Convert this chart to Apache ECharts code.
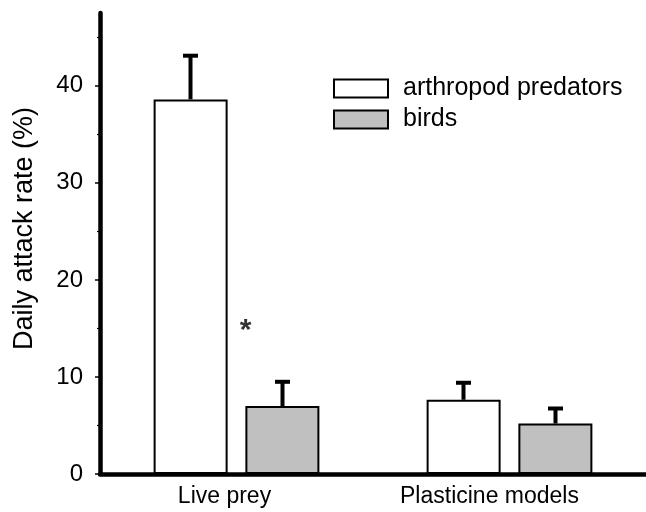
<!DOCTYPE html>
<html>
<head>
<meta charset="utf-8">
<script src="https://cdn.jsdelivr.net/npm/echarts@6/dist/echarts.min.js"></script>
<style>
html,body{margin:0;padding:0;background:#fff;}
#chart{width:646px;height:512px;}
</style>
</head>
<body>
<div id="chart"></div>
<script>
var categories = ['Live prey', 'Plasticine models'];
var seriesNames = ['arthropod predators', 'birds'];
var arthropodValues = [38.6, 7.65];
var birdValues = [7.0, 5.2];
var arthropodUpper = [43.1, 9.4];
var birdUpper = [9.5, 6.75];
var majorTicks = [0, 10, 20, 30, 40];
var minorTicks = [5, 15, 25, 35, 45];
var asteriskPoint = ['Live prey', 15.3];

var FONT = '"Liberation Sans", Arial, sans-serif';
var BAR_OFFSET = 46;

function errorSeries(upper, values, sign) {
  var data = categories.map(function (c, i) { return [i, values[i], upper[i]]; });
  return {
    type: 'custom',
    silent: true,
    z: 5,
    data: data,
    renderItem: function (params, api) {
      var p0 = api.coord([api.value(0), api.value(1)]);
      var p1 = api.coord([api.value(0), api.value(2)]);
      var x = p0[0] + sign * BAR_OFFSET;
      var style = {stroke: '#000', lineWidth: 4};
      return {
        type: 'group',
        children: [
          {type: 'line', shape: {x1: x, y1: p0[1], x2: x, y2: p1[1]}, style: style},
          {type: 'line', shape: {x1: x - 7.5, y1: p1[1], x2: x + 7.5, y2: p1[1]}, style: style}
        ]
      };
    }
  };
}

var chart = echarts.init(document.getElementById('chart'));
chart.setOption({
  backgroundColor: '#fff',
  animation: false,
  grid: {left: 100, right: -9, top: 13, bottom: 38, containLabel: false},
  legend: {
    orient: 'vertical',
    left: 328,
    top: 71,
    icon: 'rect',
    itemWidth: 54,
    itemHeight: 18,
    itemGap: 6,
    data: seriesNames,
    textStyle: {fontFamily: FONT, fontSize: 25, color: '#000', padding: [0, 0, 0, 10]}
  },
  xAxis: {
    type: 'category',
    data: categories,
    axisLine: {lineStyle: {color: '#000', width: 4.5}},
    axisTick: {show: false},
    axisLabel: {
      interval: 0,
      hideOverlap: false,
      fontFamily: FONT, fontSize: 23, color: '#000', margin: 11,
      formatter: function (v, i) { return i === 0 ? '{a|' + v + '}' : '{b|' + v + '}'; },
      rich: {
        a: {fontFamily: FONT, fontSize: 23, color: '#000', padding: [0, 24, 0, 0]},
        b: {fontFamily: FONT, fontSize: 23, color: '#000', padding: [0, 40, 0, 0]}
      }
    }
  },
  yAxis: [{
    type: 'value',
    min: 0, max: 47.5,
    name: 'Daily attack rate (%)',
    nameLocation: 'middle',
    nameRotate: 90,
    nameGap: 62,
    nameTextStyle: {fontFamily: FONT, fontSize: 27, color: '#000', padding: [0, 0, 0, 30]},
    axisLine: {show: true, lineStyle: {color: '#000', width: 4.5}},
    axisTick: {show: true, length: 5, customValues: majorTicks, lineStyle: {color: '#000', width: 1.5}},
    axisLabel: {customValues: majorTicks, fontFamily: FONT, fontSize: 24, color: '#000', margin: 17, padding: [6, 0, 0, 0]},
    splitLine: {show: false}
  }, {
    type: 'value',
    min: 0, max: 47.5,
    position: 'left',
    axisLine: {show: false},
    axisTick: {show: true, length: 3, customValues: minorTicks, lineStyle: {color: '#000', width: 1.2}},
    axisLabel: {show: false},
    splitLine: {show: false}
  }],
  series: [{
    name: seriesNames[0],
    type: 'bar',
    data: arthropodValues,
    barWidth: 74,
    barGap: '24%',
    itemStyle: {color: '#fff', borderColor: '#000', borderWidth: 2}
  }, {
    name: seriesNames[1],
    type: 'bar',
    data: birdValues,
    barWidth: 74,
    barGap: '24%',
    itemStyle: {color: '#c0c0c0', borderColor: '#000', borderWidth: 2}
  },
  errorSeries(arthropodUpper, arthropodValues, -1),
  errorSeries(birdUpper, birdValues, 1),
  {
    type: 'scatter',
    data: [asteriskPoint],
    symbolSize: 0,
    silent: true,
    label: {show: true, formatter: '*', position: 'inside', offset: [9, 5], fontFamily: FONT, fontSize: 30, fontWeight: 'bold', color: '#000'}
  }]
});
</script>
</body>
</html>
